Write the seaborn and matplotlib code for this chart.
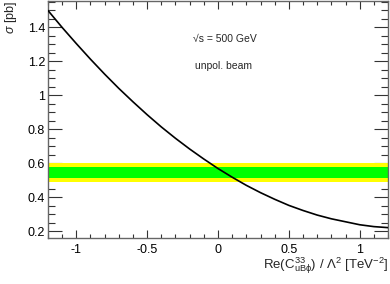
import matplotlib
matplotlib.use("Agg")
import matplotlib.pyplot as plt
import seaborn as sns
import pandas as pd
from matplotlib.ticker import MultipleLocator

# Data
coupling = [-1.2, -1.1, -1.0, -0.9, -0.8, -0.7, -0.6, -0.5, -0.4, -0.3, -0.2, -0.1,
            0.0, 0.1, 0.2, 0.3, 0.4, 0.5, 0.6, 0.7, 0.8, 1.0, 1.1, 1.2]
sigma = [1.500, 1.400, 1.305, 1.213, 1.125, 1.041, 0.962, 0.886, 0.814, 0.747,
         0.684, 0.625, 0.569, 0.518, 0.470, 0.427, 0.388, 0.352, 0.322, 0.295,
         0.273, 0.238, 0.227, 0.221]
band_outer = (0.490, 0.602)
band_inner = (0.516, 0.576)
label_energy = "\u221as = 500 GeV"
label_beam = "unpol. beam"

sns.set_style("ticks")
plt.rcParams["font.family"] = ["Liberation Sans", "DejaVu Sans"]
plt.rcParams["mathtext.fontset"] = "custom"
plt.rcParams["mathtext.rm"] = "Liberation Sans"
plt.rcParams["mathtext.it"] = "Liberation Sans:italic"

fig = plt.figure(figsize=(3.9, 2.84), dpi=100)
ax = fig.add_axes([0.123, 0.162, 0.872, 0.834])

ax.axhspan(*band_outer, color="#ffff00", lw=0, zorder=1)
ax.axhspan(*band_inner, color="#00ff00", lw=0, zorder=2)

df = pd.DataFrame({"x": coupling, "sigma": sigma})
sns.lineplot(data=df, x="x", y="sigma", color="black", lw=1.2, ax=ax, zorder=3)

ax.set_xlim(-1.2, 1.2)
ax.set_ylim(0.16, 1.555)
ax.xaxis.set_major_locator(MultipleLocator(0.5))
ax.xaxis.set_minor_locator(MultipleLocator(0.1))
ax.yaxis.set_major_locator(MultipleLocator(0.2))
ax.yaxis.set_minor_locator(MultipleLocator(0.05))
ax.set_xticks([-1, -0.5, 0, 0.5, 1])
ax.set_xticklabels(["-1", "-0.5", "0", "0.5", "1"])
ax.set_yticks([0.2, 0.4, 0.6, 0.8, 1.0, 1.2, 1.4])
ax.set_yticklabels(["0.2", "0.4", "0.6", "0.8", "1", "1.2", "1.4"])

ax.tick_params(axis="both", which="both", direction="in", top=True, right=True,
               colors="#333333", labelcolor="black", labelsize=9, width=0.8)
ax.tick_params(axis="x", which="major", length=6, pad=4)
ax.tick_params(axis="x", which="minor", length=3)
ax.tick_params(axis="y", which="major", length=10, pad=2)
ax.tick_params(axis="y", which="minor", length=5)
for s in ax.spines.values():
    s.set_color("#666666")
    s.set_linewidth(1.0)

ax.set_xlabel(r"Re(C$^{33}_{\mathrm{uB\phi}}$) / $\Lambda^{2}$ [TeV$^{-2}$]",
              fontsize=9.5, ha="right", x=1.0, labelpad=0)
ax.set_ylabel(r"$\sigma$ [pb]", fontsize=9, ha="right", y=1.0, labelpad=6)

ax.text(0.05, 1.33, label_energy, fontsize=7.5, ha="center", va="center")
ax.text(-0.16, 1.175, label_beam, fontsize=7.5, ha="left", va="center")

fig.savefig("out.png", dpi=100)
